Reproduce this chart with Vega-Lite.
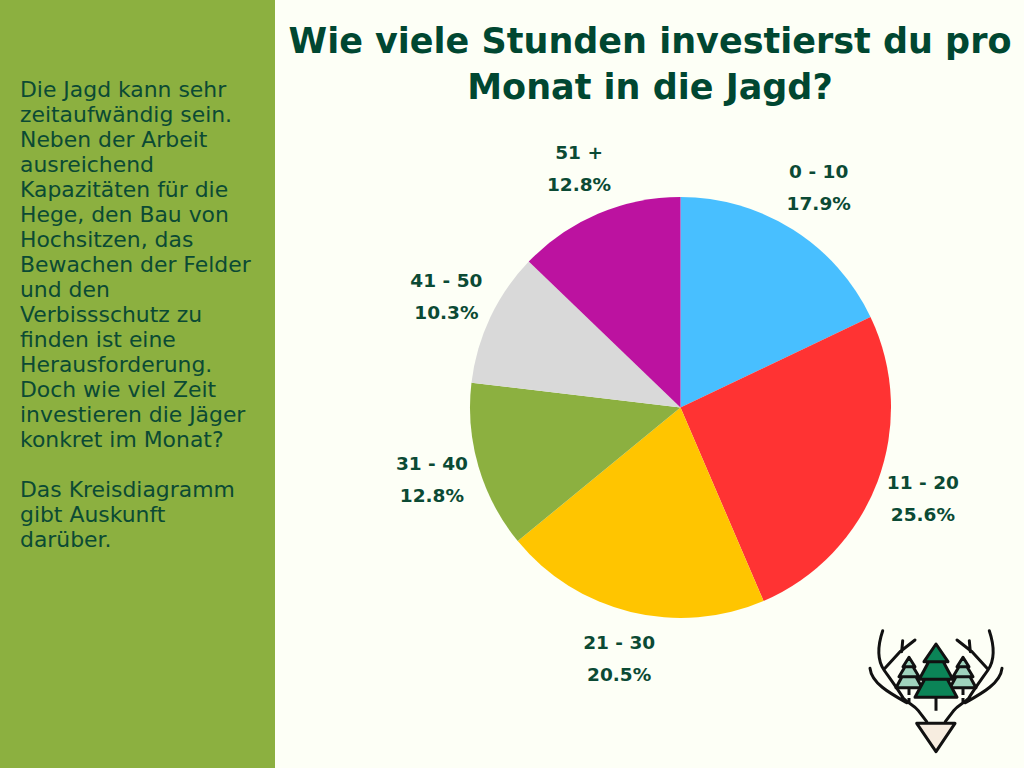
{
"$schema":"https://vega.github.io/schema/vega-lite/v6.json",
"width":687,"height":721,
"autosize":{"type":"none"},
"padding":{"left":337,"top":47,"right":0,"bottom":0},
"background":"#fdfff6",
"view":{"stroke":null},
"config":{"axis":{"disable":true}},
"layer":[
{"data":{"values":[{"panel":"Seitenleiste"}]},
 "mark":{"type":"rect","fill":"#8cb040","clip":false},
 "encoding":{"x":{"datum":0,"type":"quantitative","scale":{"domain":[337,1024],"zero":false,"nice":false}},"x2":{"datum":275},"y":{"datum":0,"type":"quantitative","scale":{"domain":[768,47],"zero":false,"nice":false}},"y2":{"datum":768}}},
{"data":{"values":[{"t":"Die Jagd kann sehr\nzeitaufwändig sein.\nNeben der Arbeit\nausreichend\nKapazitäten für die\nHege, den Bau von\nHochsitzen, das\nBewachen der Felder\nund den\nVerbissschutz zu\nfinden ist eine\nHerausforderung.\nDoch wie viel Zeit\ninvestieren die Jäger\nkonkret im Monat?"}]},
 "mark":{"type":"text","font":"DejaVu Sans","fontSize":21.9,"lineBreak":"\n","lineHeight":25,"align":"left","baseline":"middle","color":"#0b4a34"},
 "encoding":{"x":{"datum":20,"type":"quantitative"},"y":{"datum":90,"type":"quantitative"},"text":{"field":"t"}}},
{"data":{"values":[{"t":"Das Kreisdiagramm\ngibt Auskunft\ndarüber."}]},
 "mark":{"type":"text","font":"DejaVu Sans","fontSize":21.9,"lineBreak":"\n","lineHeight":25,"align":"left","baseline":"middle","color":"#0b4a34"},
 "encoding":{"x":{"datum":20,"type":"quantitative"},"y":{"datum":490,"type":"quantitative"},"text":{"field":"t"}}},
{"data":{"values":[{"t":"Wie viele Stunden investierst du pro\nMonat in die Jagd?"}]},
 "mark":{"type":"text","font":"DejaVu Sans","fontWeight":"bold","fontSize":35,"lineBreak":"\n","lineHeight":46,"align":"center","baseline":"middle","color":"#004731"},
 "encoding":{"x":{"datum":650,"type":"quantitative"},"y":{"datum":42,"type":"quantitative"},"text":{"field":"t"}}},
{"data":{"name":"pie","values":[
{"Stunden":"0 - 10","Anteil":17.9,"Label":"0 - 10\n17.9%"},
{"Stunden":"11 - 20","Anteil":25.6,"Label":"11 - 20\n25.6%"},
{"Stunden":"21 - 30","Anteil":20.5,"Label":"21 - 30\n20.5%"},
{"Stunden":"31 - 40","Anteil":12.8,"Label":"31 - 40\n12.8%"},
{"Stunden":"41 - 50","Anteil":10.3,"Label":"41 - 50\n10.3%"},
{"Stunden":"51 +","Anteil":12.8,"Label":"51 +\n12.8%"}]},
 "mark":{"type":"arc","outerRadius":210.5},
 "encoding":{"theta":{"field":"Anteil","type":"quantitative","stack":true},
 "order":{"field":"Stunden"},
 "color":{"field":"Stunden","type":"nominal","legend":null,"scale":{"domain":["0 - 10","11 - 20","21 - 30","31 - 40","41 - 50","51 +"],"range":["#48bfff","#ff3333","#ffc500","#8cb040","#d9d9d9","#bc12a0"]}}}},
{"data":{"name":"pie"},
 "mark":{"type":"text","radius":259,"dy":-16,"font":"DejaVu Sans","fontWeight":"bold","fontSize":18.5,"lineBreak":"\n","lineHeight":32,"align":"center","baseline":"middle","color":"#0b4a34"},
 "encoding":{"theta":{"field":"Anteil","type":"quantitative","stack":true},"order":{"field":"Stunden"},"detail":{"field":"Stunden"},"text":{"field":"Label"}}},
{"data":{"values":[{"logo":"Geweih"}]},
 "mark":{"type":"point","size":4,"opacity":1,"strokeWidth":3,"stroke":"#111111","fill":null,"strokeCap":"round","strokeJoin":"round","shape":"M-53.3,-61.3C-58.7,-45.3,-58.7,-32,-52,-22C-45,-12,-37,-1,-32.7,6.3C-27,12,-22,13,-17.7,18.7L-9.3,29.7M-66,-23.7C-64.3,-8.7,-46,1.3,-29.3,10.7M-21,-52L-36,-40.3L-52,-22.7M-33.3,-51.3L-34.3,-40.3M53.3,-61.3C58.7,-45.3,58.7,-32,52,-22C45,-12,37,-1,32.7,6.3C27,12,22,13,17.7,18.7L9.3,29.7M66,-23.7C64.3,-8.7,46,1.3,29.3,10.7M21,-52L36,-40.3L52,-22.7M33.3,-51.3L34.3,-40.3"},
 "encoding":{"x":{"datum":936,"type":"quantitative"},"y":{"datum":692,"type":"quantitative"}}},
{"data":{"values":[{"logo":"Kleine Bäume"}]},
 "mark":{"type":"point","size":4,"opacity":1,"strokeWidth":3,"stroke":"#111111","fill":"#9fd3bd","strokeJoin":"round","shape":"M-27,-34.7L-21,-25.3L-23,-25.3L-17,-15.3L-20,-15.3L-14,-4.3L-40,-4.3L-34,-15.3L-37,-15.3L-31,-25.3L-33,-25.3ZM-33,-25.3H-21M-37,-15.3H-17M-27,-4.3V3M-27,6V10M27,-34.7L33,-25.3L31,-25.3L37,-15.3L34,-15.3L40,-4.3L14,-4.3L20,-15.3L17,-15.3L23,-25.3L21,-25.3ZM21,-25.3H33M17,-15.3H37M27,-4.3V3M27,6V10"},
 "encoding":{"x":{"datum":936,"type":"quantitative"},"y":{"datum":692,"type":"quantitative"}}},
{"data":{"values":[{"logo":"Großer Baum"}]},
 "mark":{"type":"point","size":4,"opacity":1,"strokeWidth":3,"stroke":"#111111","fill":"#0b8457","strokeJoin":"round","shape":"M0,-48L12,-30.3L7.3,-30.3L16.7,-12.7L11.3,-12.7L21,5.3L-21,5.3L-11.3,-12.7L-16.7,-12.7L-7.3,-30.3L-12,-30.3ZM-12,-30.3H12M-16.7,-12.7H16.7M0,5.3V18.7"},
 "encoding":{"x":{"datum":936,"type":"quantitative"},"y":{"datum":692,"type":"quantitative"}}},
{"data":{"values":[{"logo":"Gesicht"}]},
 "mark":{"type":"point","size":4,"opacity":1,"strokeWidth":3,"stroke":"#111111","fill":"#f7ede0","strokeJoin":"round","shape":"M-19.3,31.3L19,31.3L0,59.7Z"},
 "encoding":{"x":{"datum":936,"type":"quantitative"},"y":{"datum":692,"type":"quantitative"}}}
]
}
